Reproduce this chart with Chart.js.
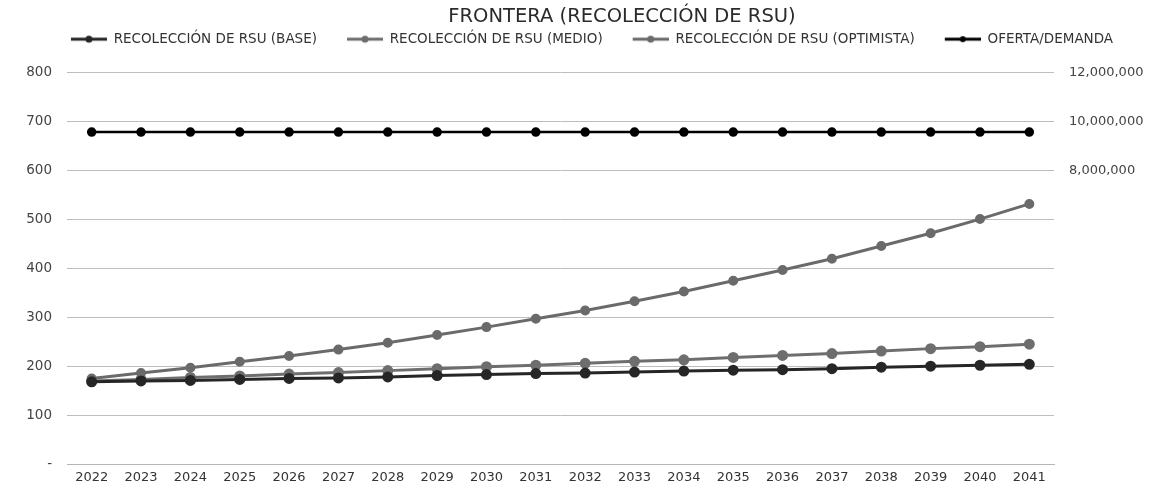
<!DOCTYPE html>
<html>
<head>
<meta charset="utf-8">
<script src="https://cdn.jsdelivr.net/npm/chart.js@4/dist/chart.umd.min.js"></script>
<style>
  html, body { margin: 0; padding: 0; background: #fff; overflow: hidden; }
  #wrap { width: 1158px; height: 486px; }
</style>
</head>
<body>
<div id="wrap"><canvas id="chart"></canvas></div>
<script>
// Datos
const years = ['2022', '2023', '2024', '2025', '2026', '2027', '2028', '2029', '2030', '2031',
               '2032', '2033', '2034', '2035', '2036', '2037', '2038', '2039', '2040', '2041'];

const recoleccionBase = [168, 170, 171, 173, 175, 176, 178, 181, 183, 185,
                         186, 188, 190, 192, 193, 195, 198, 200, 202, 204];

const recoleccionMedio = [170, 173, 177, 180, 184, 187, 191, 195, 199, 202,
                          206, 210, 213, 218, 222, 226, 231, 236, 240, 245];

const recoleccionOptimista = [175, 186, 197, 209, 221, 234, 248, 264, 280, 297,
                              314, 333, 353, 375, 397, 420, 446, 472, 501, 532];

const ofertaDemanda = [9580000, 9580000, 9580000, 9580000, 9580000, 9580000, 9580000, 9580000, 9580000, 9580000,
                       9580000, 9580000, 9580000, 9580000, 9580000, 9580000, 9580000, 9580000, 9580000, 9580000];

const rightTicksShown = [8000000, 10000000, 12000000];

const ICON_GAP = 26;   // espacio libre antes del icono
const ICON_LEN = 36;

// Icono de leyenda: línea con punto
function legendIcon(color, radius) {
    const c = document.createElement('canvas');
    c.width = ICON_GAP + ICON_LEN;
    c.height = 10;
    const ctx = c.getContext('2d');
    ctx.strokeStyle = color;
    ctx.lineWidth = 3;
    ctx.beginPath();
    ctx.moveTo(ICON_GAP, 5);
    ctx.lineTo(ICON_GAP + ICON_LEN, 5);
    ctx.stroke();
    ctx.fillStyle = color;
    ctx.beginPath();
    ctx.arc(ICON_GAP + ICON_LEN / 2, 5, radius, 0, Math.PI * 2);
    ctx.fill();
    return c;
}

const FONT = "'DejaVu Sans', sans-serif";

// Ajustes: margen bajo la leyenda y título desplazado
const layoutTweaks = {
    id: 'layoutTweaks',
    beforeInit(chart) {
        const legend = chart.legend;
        const fit = legend.fit;
        legend.fit = function () {
            fit.call(this);
            this.height += 17;
        };
        const title = chart.titleBlock;
        const draw = title.draw;
        title.draw = function () {
            this.ctx.save();
            this.ctx.translate(43, 0);
            draw.call(this);
            this.ctx.restore();
        };
    }
};

new Chart(document.getElementById('chart'), {
    type: 'line',
    data: {
        labels: years,
        datasets: [{
            label: 'RECOLECCIÓN DE RSU (BASE)',
            data: recoleccionBase,
            borderColor: '#262626',
            backgroundColor: '#262626',
            borderWidth: 3,
            pointRadius: 4,
            yAxisID: 'y'
        }, {
            label: 'RECOLECCIÓN DE RSU (MEDIO)',
            data: recoleccionMedio,
            borderColor: '#6e6e6e',
            backgroundColor: '#6e6e6e',
            borderWidth: 3,
            pointRadius: 4,
            yAxisID: 'y'
        }, {
            label: 'RECOLECCIÓN DE RSU (OPTIMISTA)',
            data: recoleccionOptimista,
            borderColor: '#6a6a6a',
            backgroundColor: '#6a6a6a',
            borderWidth: 3,
            pointRadius: 3.5,
            yAxisID: 'y'
        }, {
            label: 'OFERTA/DEMANDA',
            data: ofertaDemanda,
            borderColor: '#000',
            backgroundColor: '#000',
            borderWidth: 2.5,
            pointRadius: 3.5,
            yAxisID: 'y1'
        }]
    },
    plugins: [layoutTweaks],
    options: {
        responsive: true,
        maintainAspectRatio: false,
        animation: false,
        plugins: {
            title: {
                display: true,
                text: 'FRONTERA (RECOLECCIÓN DE RSU)',
                color: '#2b2b2b',
                font: { family: FONT, size: 19.5, weight: 'normal' },
                padding: { top: 5, bottom: 0 }
            },
            legend: {
                display: true,
                labels: {
                    color: '#333',
                    font: { family: FONT, size: 13.5 },
                    usePointStyle: true,
                    pointStyleWidth: ICON_GAP + ICON_LEN,
                    padding: 4,
                    generateLabels: (chart) => chart.data.datasets.map((ds, i) => ({
                        text: ds.label,
                        fontColor: '#333',
                        pointStyle: legendIcon(ds.borderColor, i === 3 ? 3 : 3.5),
                        datasetIndex: i,
                        hidden: false,
                        lineWidth: 0
                    }))
                }
            },
            tooltip: { enabled: false }
        },
        scales: {
            x: {
                offset: true,
                grid: { display: false, drawTicks: false },
                border: { display: true, color: '#b5b5b5', width: 1 },
                ticks: {
                    color: '#333',
                    font: { family: FONT, size: 13 },
                    padding: 6,
                    maxRotation: 0,
                    autoSkip: false
                },
                afterFit: (s) => { s.height = 22; }
            },
            y: {
                position: 'left',
                min: 0,
                max: 800,
                grid: { color: '#bdbdbd', drawTicks: false, lineWidth: 1 },
                border: { display: false },
                ticks: {
                    stepSize: 100,
                    color: '#444',
                    font: { family: FONT, size: 13.5, lineHeight: 1 },
                    padding: 15,
                    callback: (v) => v === 0 ? '-' : v
                },
                afterFit: (s) => { s.width = 67; }
            },
            y1: {
                position: 'right',
                min: -4000000,
                max: 12000000,
                grid: { display: false, drawTicks: false },
                border: { display: false },
                ticks: {
                    stepSize: 2000000,
                    color: '#444',
                    font: { family: FONT, size: 13, lineHeight: 1 },
                    padding: 15,
                    callback: (v) => rightTicksShown.includes(v) ? v.toLocaleString('en-US') : ''
                },
                afterFit: (s) => { s.width = 104; }
            }
        }
    }
});
</script>
</body>
</html>
